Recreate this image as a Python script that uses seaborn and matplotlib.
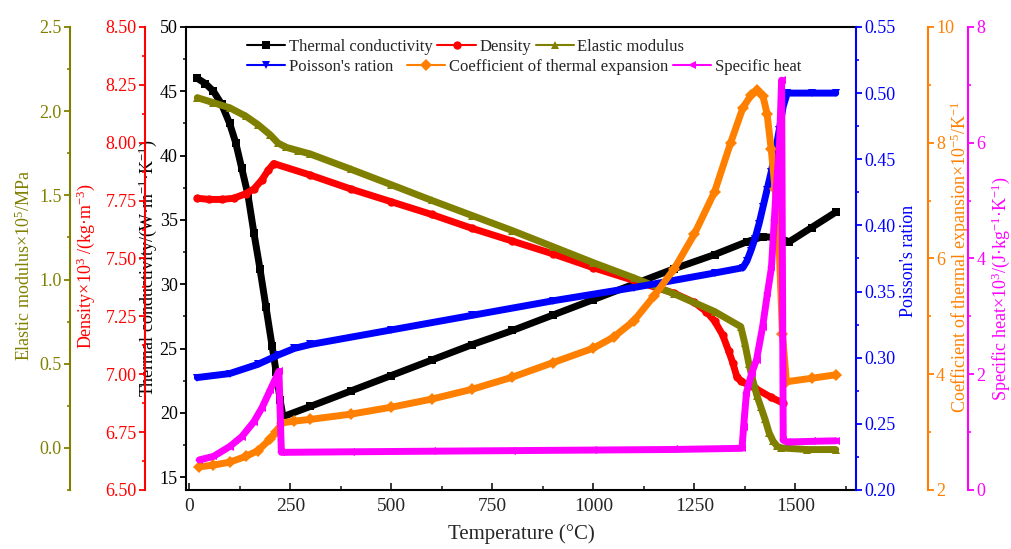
import numpy as np
import pandas as pd
import matplotlib
matplotlib.use("Agg")
import matplotlib.pyplot as plt
from matplotlib.lines import Line2D
from matplotlib.ticker import MultipleLocator, FormatStrFormatter
import seaborn as sns

# ---------------- data ----------------
T_tc = [20, 40, 60, 80, 100, 115, 130, 145, 160, 175, 190, 205, 215, 225, 232,
        300, 400, 500, 600, 700, 800, 900, 1000, 1100, 1200, 1300, 1380, 1420,
        1460, 1485, 1540, 1600]
tc = [46.0, 45.6, 45.0, 44.0, 42.5, 41.0, 39.0, 37.0, 34.0, 31.2, 28.2, 25.2,
      23.2, 21.0, 19.7, 20.5, 21.7, 22.9, 24.1, 25.3, 26.4, 27.6, 28.8, 30.0,
      31.2, 32.3, 33.3, 33.7, 33.6, 33.3, 34.4, 35.6]

T_rho = [20, 50, 80, 110, 140, 160, 180, 195, 209, 300, 400, 500, 600, 700, 800,
         900, 1000, 1100, 1200, 1250, 1280, 1300, 1320, 1335, 1345, 1355, 1365,
         1400, 1440, 1470]
rho = [7.76, 7.755, 7.755, 7.76, 7.78, 7.80, 7.84, 7.88, 7.91, 7.86, 7.80, 7.745,
       7.69, 7.63, 7.575, 7.52, 7.46, 7.405, 7.35, 7.31, 7.27, 7.23, 7.17, 7.10,
       7.05, 6.99, 6.97, 6.94, 6.90, 6.875]

T_E = [20, 60, 100, 140, 170, 200, 220, 240, 270, 300, 400, 500, 600, 700, 800,
       900, 1000, 1100, 1200, 1300, 1365, 1375, 1385, 1395, 1405, 1415, 1425,
       1435, 1445, 1455, 1465, 1530, 1600]
E = [2.08, 2.05, 2.02, 1.97, 1.92, 1.86, 1.81, 1.785, 1.765, 1.745, 1.655, 1.563,
     1.47, 1.38, 1.29, 1.195, 1.10, 1.01, 0.915, 0.81, 0.72, 0.62, 0.50, 0.40,
     0.31, 0.24, 0.17, 0.09, 0.04, 0.01, 0.0, -0.01, -0.01]

T_nu = [20, 100, 170, 220, 260, 300, 500, 700, 900, 1100, 1300, 1370, 1380, 1390,
        1400, 1410, 1420, 1430, 1440, 1450, 1460, 1470, 1480, 1540, 1600]
nu = [0.285, 0.288, 0.295, 0.302, 0.307, 0.31, 0.321, 0.332, 0.343, 0.353, 0.364,
      0.368, 0.373, 0.381, 0.390, 0.401, 0.414, 0.427, 0.440, 0.455, 0.472, 0.490,
      0.50, 0.50, 0.50]

T_cte = [25, 60, 100, 140, 170, 200, 215, 229, 260, 300, 400, 500, 600, 700, 800,
         900, 1000, 1050, 1100, 1150, 1200, 1250, 1300, 1340, 1370, 1390, 1405,
         1420, 1430, 1440, 1450, 1460, 1468, 1478, 1540, 1600]
cte = [2.40, 2.43, 2.48, 2.58, 2.68, 2.88, 3.0, 3.16, 3.19, 3.22, 3.31, 3.43, 3.57,
       3.74, 3.95, 4.20, 4.45, 4.64, 4.92, 5.35, 5.82, 6.42, 7.15, 8.0, 8.6, 8.82,
       8.91, 8.8, 8.5, 7.9, 7.2, 6.2, 4.7, 3.87, 3.93, 3.99]

T_cp = [25, 60, 100, 130, 160, 180, 200, 212, 222, 228, 400, 600, 800, 1000, 1200,
        1368, 1372, 1379, 1392, 1404, 1419, 1431, 1441, 1448, 1453, 1461, 1466,
        1470, 1480, 1540, 1600]
cp = [0.52, 0.58, 0.75, 0.92, 1.18, 1.42, 1.72, 1.90, 2.05, 0.65, 0.66, 0.67, 0.68,
      0.69, 0.70, 0.72, 1.09, 1.68, 2.02, 2.25, 2.82, 3.40, 3.85, 4.67, 5.24, 6.0,
      7.08, 0.86, 0.83, 0.84, 0.85]

labels = ["Thermal conductivity", "Density", "Elastic modulus",
          "Poisson's ration", "Coefficient of thermal expansion", "Specific heat"]

# ---------------- style ----------------
sns.set_theme(style="ticks")
plt.rcParams["font.family"] = ["Liberation Serif", "DejaVu Serif"]
plt.rcParams["mathtext.default"] = "regular"

C_BLACK, C_RED, C_OLIVE = "#000000", "#FF0000", "#808000"
C_BLUE, C_ORANGE, C_MAG = "#0000FF", "#FF8000", "#FF00FF"

fig = plt.figure(figsize=(10.12, 5.49), dpi=100)
ax = fig.add_axes([0.1838, 0.1075, 0.662, 0.8434])
ax_red = ax.twinx()
ax_olive = ax.twinx()
ax_blue = ax.twinx()
ax_orange = ax.twinx()
ax_mag = ax.twinx()

LW = 5
MS = 6


def draw(axx, x, y, color, marker):
    df = pd.DataFrame({"T": x, "v": y})
    sns.lineplot(data=df, x="T", y="v", ax=axx, color=color, marker=marker,
                 markersize=MS, markeredgewidth=0, linewidth=LW,
                 estimator=None, sort=False, legend=False)


draw(ax, T_tc, tc, C_BLACK, "s")
draw(ax_red, T_rho, rho, C_RED, "o")
draw(ax_olive, T_E, E, C_OLIVE, "^")
draw(ax_blue, T_nu, nu, C_BLUE, "v")
draw(ax_orange, T_cte, cte, C_ORANGE, "D")
draw(ax_mag, T_cp, cp, C_MAG, "<")

# ---------------- main axis ----------------
ax.set_xlim(-8, 1650)
ax.set_ylim(14, 50)
ax.xaxis.set_major_locator(MultipleLocator(250))
ax.xaxis.set_minor_locator(MultipleLocator(125))
ax.yaxis.set_major_locator(MultipleLocator(5))
ax.yaxis.set_minor_locator(MultipleLocator(2.5))
for s in ["left", "top", "bottom"]:
    ax.spines[s].set_visible(True)
    ax.spines[s].set_color(C_BLACK)
    ax.spines[s].set_linewidth(1.5)
ax.spines["right"].set_visible(False)
ax.tick_params(axis="x", which="major", direction="in", length=5, width=1.3,
               labelsize=14, pad=6, top=False)
ax.tick_params(axis="x", which="minor", direction="in", length=3, width=1.2, top=False)
ax.tick_params(axis="y", which="major", direction="out", length=4.5, width=1.3,
               labelsize=13, colors=C_BLACK, right=False, pad=1.5)
ax.tick_params(axis="y", which="minor", direction="out", length=2.5, width=1.2, right=False)
ax.set_xlabel("Temperature (°C)", fontsize=15, labelpad=6)
ax.set_ylabel("Thermal conductivity/(W·m$^{-1}$·K$^{-1}$)", fontsize=13, color=C_BLACK)
ax.yaxis.set_label_coords(-0.041, 0.48)


def setup(axx, color, side, pos, lims, major, minor, fmt, lab, labx, laby):
    for s in axx.spines.values():
        s.set_visible(False)
    sp = axx.spines[side]
    sp.set_visible(True)
    sp.set_color(color)
    sp.set_linewidth(1.5)
    sp.set_position(("axes", pos))
    axx.yaxis.set_ticks_position(side)
    axx.yaxis.set_label_position(side)
    axx.set_ylim(*lims)
    axx.yaxis.set_major_locator(MultipleLocator(major))
    axx.yaxis.set_minor_locator(MultipleLocator(minor))
    axx.yaxis.set_major_formatter(FormatStrFormatter(fmt))
    axx.tick_params(axis="y", which="major", direction="out", length=4.5, width=1.3,
                    labelsize=13, colors=color, pad=1.5)
    axx.tick_params(axis="y", which="minor", direction="out", length=2.5, width=1.2,
                    colors=color)
    axx.set_ylabel(lab, fontsize=13, color=color)
    axx.yaxis.set_label_coords(labx, laby)
    axx.set_xlabel("")


setup(ax_red, C_RED, "left", -0.061, (6.5, 8.5), 0.25, 0.125, "%.2f",
      "Density×10$^{3}$ /(kg·m$^{-3}$)", -0.133, 0.484)
setup(ax_olive, C_OLIVE, "left", -0.173, (-0.25, 2.5), 0.5, 0.25, "%.1f",
      "Elastic modulus×10$^{5}$/MPa", -0.227, 0.486)
setup(ax_blue, C_BLUE, "right", 1.0, (0.20, 0.55), 0.05, 0.025, "%.2f",
      "Poisson's ration", 1.066, 0.495)
setup(ax_orange, C_ORANGE, "right", 1.107, (2, 10), 2, 1, "%d",
      "Coefficient of thermal expansion×10$^{-5}$/K$^{-1}$", 1.139, 0.503)
setup(ax_mag, C_MAG, "right", 1.167, (0, 8), 2, 1, "%d",
      "Specific heat×10$^{3}$/(J·kg$^{-1}$·K$^{-1}$)", 1.200, 0.434)

# ---------------- legend ----------------
def h(color, marker):
    return Line2D([0], [0], color=color, lw=1.5, marker=marker, markersize=6,
                  markeredgewidth=0)


leg_kw = dict(loc="upper left", frameon=False, fontsize=12, handlelength=2.3,
              handletextpad=0.2, columnspacing=0.3, borderpad=0, borderaxespad=0)
leg1 = ax_mag.legend([h(C_BLACK, "s"), h(C_RED, "o"), h(C_OLIVE, "^")], labels[:3],
                     bbox_to_anchor=(0.091, 0.974), ncol=3, **leg_kw)
ax_mag.add_artist(leg1)
leg2 = ax_mag.legend([h(C_BLUE, "v")], labels[3:4],
                     bbox_to_anchor=(0.091, 0.931), ncol=1, **leg_kw)
ax_mag.add_artist(leg2)
ax_mag.legend([h(C_ORANGE, "D"), h(C_MAG, "<")], labels[4:],
              bbox_to_anchor=(0.330, 0.931), ncol=2, **leg_kw)

fig.savefig("out.png", dpi=100)
